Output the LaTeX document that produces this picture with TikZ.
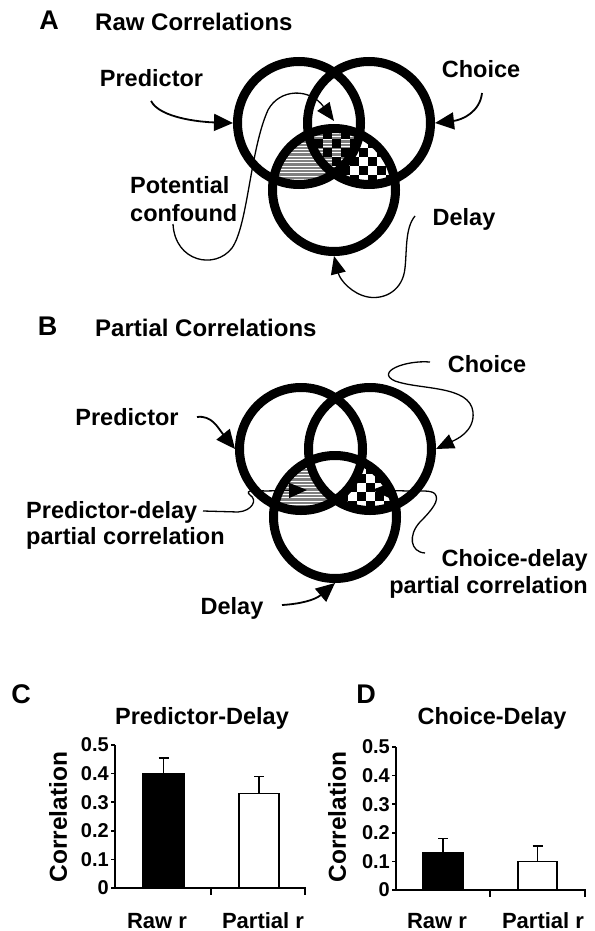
\documentclass[tikz,border=0pt]{standalone}
\usepackage{fontspec}
\setmainfont{Liberation Sans}
\usetikzlibrary{arrows.meta}
\tikzset{
  lab/.style={font=\fontsize{23.5}{28}\selectfont\bfseries, inner sep=0pt},
  tlab/.style={font=\fontsize{24}{28}\selectfont\bfseries, inner sep=0pt},
  letlab/.style={font=\fontsize{27}{30}\selectfont\bfseries, inner sep=0pt, anchor=base},
  ticklab/.style={font=\fontsize{20}{22}\selectfont\bfseries, inner sep=0pt, anchor=east},
  catlab/.style={font=\fontsize{22}{26}\selectfont\bfseries, inner sep=0pt, anchor=base},
  ylab/.style={font=\fontsize{24.5}{28}\selectfont\bfseries, inner sep=0pt, rotate=90},
  venn/.style={circle, draw=black, line width=9pt, minimum size=123pt, inner sep=0pt},
  arr/.style={line width=1.8pt, -{Triangle[length=19pt,width=17pt]}},
  thinarr/.style={line width=1.3pt, -{Triangle[length=18pt,width=15pt]}},
  axisline/.style={line width=1.6pt},
  barbox/.style={draw=black, line width=1.6pt},
}
\newcommand\stripesIn[2]{%
  \fill[black!50] (220,#1) rectangle (450,#2);
  \foreach \k in {0,...,46}{\draw[white,line width=0.8pt] (220,{#1+1.5+\k*3.3}) -- (450,{#1+1.5+\k*3.3});}}
\newcommand\checkerAt[2]{%
  \foreach \i in {0,2,...,14}{\foreach \j in {0,2,...,10}{%
    \fill[black] ({#1+\i*9},{#2+\j*9}) rectangle ++(9,9);
    \fill[black] ({#1+\i*9+9},{#2+\j*9+9}) rectangle ++(9,9);}}}
\begin{document}
\begin{tikzpicture}[x=1pt,y=-1pt]
\useasboundingbox[fill=white] (0,0) rectangle (594,931);

% ================= Panel A =================
\node[letlab] (lA) at (49,30) {A};
\node[tlab, anchor=base west] (tA) at (95,31) {Raw Correlations};

\begin{scope}
  \clip (299,123) circle[radius=61.5pt];
  \clip (334,190) circle[radius=61.5pt];
  \stripesIn{115}{265}
\end{scope}
\begin{scope}
  \clip (369,123) circle[radius=61.5pt];
  \clip (334,190) circle[radius=61.5pt];
  \fill[white] (220,115) rectangle (450,265);
  \checkerAt{296}{121}
\end{scope}
\begin{scope}
  \clip (299,123) circle[radius=61.5pt];
  \clip (369,123) circle[radius=61.5pt];
  \clip (334,190) circle[radius=61.5pt];
  \stripesIn{115}{265}
  \checkerAt{296}{121}
\end{scope}

\node[venn] (AL) at (299,123) {};
\node[venn] (AR) at (369,123) {};
\node[venn] (AD) at (334,190) {};

\node[lab, anchor=base] (pA) at (151.5,87) {Predictor};
\node[lab, anchor=base] (cA) at (481,78) {Choice};
\node[lab, anchor=north west, align=left] (pcA) at (130,176) {Potential\\confound};
\node[lab, anchor=base] (dA) at (464,225) {Delay};

\coordinate (pAs) at (151,101);
\coordinate (cAs) at (482,93);
\coordinate (pcAs) at (173,224);
\coordinate (pcAt) at (334,121);
\coordinate (dAs) at (415,216);

\draw[arr] (pAs) .. controls (160,118) and (200,122) .. (AL.west);
\draw[arr] (cAs) .. controls (480,112) and (462,120) .. (AR.east);
\draw[thinarr] (pcAs) .. controls (175,262) and (215,270) .. (232,248)
  .. controls (248,225) and (250,150) .. (268,110)
  .. controls (280,88) and (310,88) .. (pcAt);
\draw[thinarr] (dAs) .. controls (405,228) and (407,250) .. (405,268)
  .. controls (403,290) and (385,300) .. (368,297)
  .. controls (352,294) and (340,280) .. (AD.south);

% ================= Panel B =================
\node[letlab] (lB) at (47.5,335) {B};
\node[tlab, anchor=base west] (tB) at (95,336) {Partial Correlations};

\begin{scope}
  \clip (301,449) circle[radius=61.5pt];
  \clip (335,517) circle[radius=61.5pt];
  \stripesIn{440}{590}
\end{scope}
\begin{scope}
  \clip (370,449) circle[radius=61.5pt];
  \clip (335,517) circle[radius=61.5pt];
  \fill[white] (220,440) rectangle (450,590);
  \checkerAt{330}{447}
\end{scope}
\begin{scope}
  \clip (301,449) circle[radius=61.5pt];
  \clip (370,449) circle[radius=61.5pt];
  \clip (335,517) circle[radius=61.5pt];
  \fill[white] (220,440) rectangle (450,590);
\end{scope}

\node[venn] (BL) at (301,449) {};
\node[venn] (BR) at (370,449) {};
\node[venn] (BD) at (335,517) {};

\node[lab, anchor=base] (pB) at (127,425) {Predictor};
\node[lab, anchor=base] (cB) at (487,372) {Choice};
\node[lab, anchor=north west, align=left, font=\fontsize{23.5}{26.5}\selectfont\bfseries] (pdB) at (26,501) {Predictor-delay\\partial correlation};
\node[lab, anchor=north east, align=right, font=\fontsize{23.5}{27}\selectfont\bfseries] (cdB) at (588,549) {Choice-delay\\partial correlation};
\node[lab, anchor=base] (dB) at (232,614) {Delay};

\coordinate (pBs) at (197,417);
\coordinate (cBs) at (430,362);
\coordinate (pdBs) at (203,511);
\coordinate (pdBt) at (307,490);
\coordinate (cdBs) at (425,553);
\coordinate (cdBt) at (372,490);
\coordinate (dBs) at (282,605);

\draw[arr] (pBs) .. controls (212,415) and (218,428) .. (BL.west);
\draw[thinarr] (cBs) .. controls (405,360) and (375,372) .. (395,381)
  .. controls (420,390) and (470,385) .. (473,412)
  .. controls (475,432) and (455,440) .. (BR.east);
\draw[thinarr] (pdBs) -- (238,512) .. controls (252,511) and (258,500) .. (250,495)
  .. controls (244,490) and (255,490) .. (265,491) -- (pdBt);
\draw[thinarr] (cdBs) .. controls (410,552) and (408,535) .. (420,522)
  .. controls (432,510) and (440,500) .. (435,494)
  .. controls (432,490) and (420,491) .. (408,491) -- (cdBt);
\draw[arr] (dBs) .. controls (300,604) and (315,600) .. (BD.south);

% ================= Panel C =================
\node[letlab] (lC) at (21,703) {C};
\node[lab, anchor=base] (tC) at (202,724) {Predictor-Delay};
\node[ylab] (yC) at (58,817) {Correlation};
\draw[axisline] (115,745) -- (115,888) -- (305,888) -- (305,895);
\draw[axisline] (211,888) -- (211,895);
\foreach \v/\t in {0/0,1/0.1,2/0.2,3/0.3,4/0.4,5/0.5}{
  \draw[axisline] (111,{888-\v*28.6}) -- (115,{888-\v*28.6});
  \node[ticklab] at (109,{888-\v*28.6}) {\t};
}
\fill[barbox, fill=black] (143,888) rectangle (184,773.6);
\draw[axisline] (163.5,773.6) -- (163.5,758);
\draw[axisline] (158.5,758) -- (168.5,758);
\draw[barbox, fill=white] (239,888) rectangle (279,793.6);
\draw[axisline] (259,793.6) -- (259,776.5);
\draw[axisline] (254,776.5) -- (264,776.5);
\node[catlab] (rC) at (157,928) {Raw r};
\node[catlab] (prC) at (263,928) {Partial r};

% ================= Panel D =================
\node[letlab] (lD) at (366,703) {D};
\node[lab, anchor=base] (tD) at (492,724) {Choice-Delay};
\node[ylab] (yD) at (337,817) {Correlation};
\draw[axisline] (396,747) -- (396,890) -- (585,890) -- (585,897);
\draw[axisline] (490,890) -- (490,897);
\foreach \v/\t in {0/0,1/0.1,2/0.2,3/0.3,4/0.4,5/0.5}{
  \draw[axisline] (392,{890-\v*28.6}) -- (396,{890-\v*28.6});
  \node[ticklab] at (390,{890-\v*28.6}) {\t};
}
\fill[barbox, fill=black] (423,890) rectangle (463,852.8);
\draw[axisline] (443,852.8) -- (443,838.5);
\draw[axisline] (438,838.5) -- (448,838.5);
\draw[barbox, fill=white] (518,890) rectangle (557,861.4);
\draw[axisline] (537.5,861.4) -- (537.5,845.7);
\draw[axisline] (532.5,845.7) -- (542.5,845.7);
\node[catlab] (rD) at (437,928) {Raw r};
\node[catlab] (prD) at (543,928) {Partial r};
\end{tikzpicture}
\end{document}
